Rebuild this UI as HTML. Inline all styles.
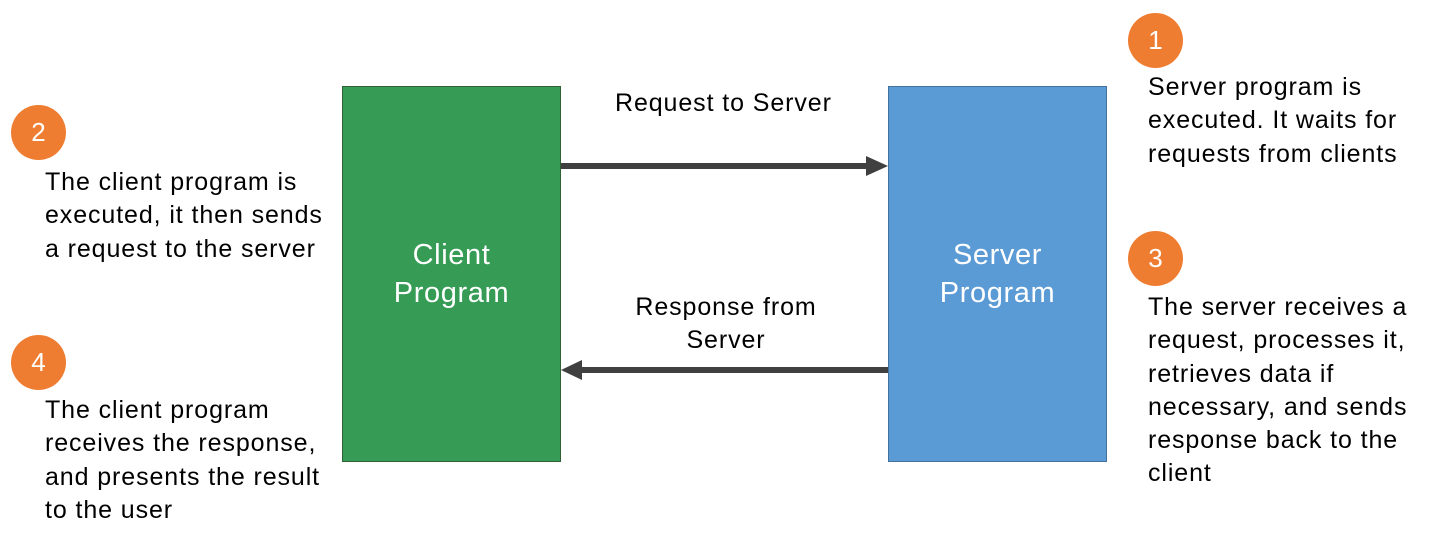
<!DOCTYPE html>
<html><head><meta charset="utf-8"><style>
body{margin:0;width:1438px;height:540px;background:#fff;position:relative;overflow:hidden;font-family:"Liberation Sans","DejaVu Sans",sans-serif;color:#000}
.t{position:absolute;font-size:25px;letter-spacing:0.9px;line-height:33.3px;white-space:nowrap}
.c{position:absolute;width:55px;height:55px;border-radius:50%;background:#ef7d31;color:#fff;font-size:26px;line-height:55px;text-align:center}
.box{position:absolute;top:86px;width:217px;height:374px;color:#fff;font-size:29px;letter-spacing:0.6px;line-height:38px;text-align:center;display:flex;align-items:center;justify-content:center}
</style></head><body>
<div class="box" style="left:342px;background:#359b55;border:1px solid #2f5f35">Client<br>Program</div>
<div class="box" style="left:888px;background:#5b9bd5;border:1px solid #41719c">Server<br>Program</div>
<svg style="position:absolute;left:0;top:0" width="1438" height="540">
<line x1="561" y1="166" x2="868" y2="166" stroke="#404040" stroke-width="6"/>
<polygon points="866,156 888,166 866,176" fill="#404040"/>
<line x1="888" y1="370" x2="580" y2="370" stroke="#404040" stroke-width="6"/>
<polygon points="582,360 561,370 582,380" fill="#404040"/>
</svg>
<div class="c" style="left:1128px;top:13px">1</div>
<div class="c" style="left:11px;top:105px">2</div>
<div class="c" style="left:1128px;top:231px">3</div>
<div class="c" style="left:11px;top:335px">4</div>
<div class="t" style="left:615px;top:87px">Request to Server</div>
<div class="t" style="top:291px;text-align:center;width:210px;left:621px">Response from<br>Server</div>
<div class="t" style="left:1148px;top:71px">Server program is<br>executed. It waits for<br>requests from clients</div>
<div class="t" style="left:45px;top:166px">The client program is<br>executed, it then sends<br>a request to the server</div>
<div class="t" style="left:1148px;top:291px">The server receives a<br>request, processes it,<br>retrieves data if<br>necessary, and sends<br>response back to the<br>client</div>
<div class="t" style="left:45px;top:394px">The client program<br>receives the response,<br>and presents the result<br>to the user</div>
</body></html>
